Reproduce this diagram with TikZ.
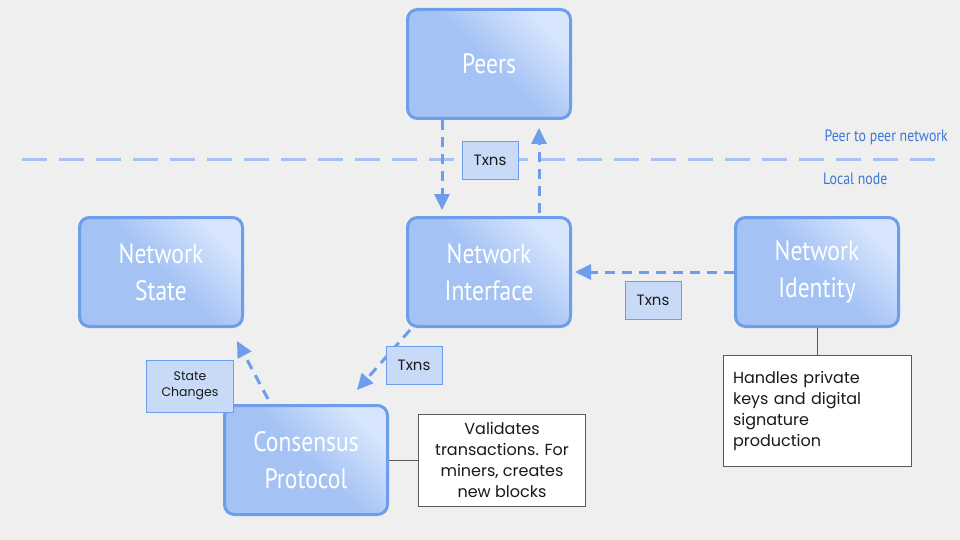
\documentclass[tikz,border=0pt]{standalone}
\usepackage{fontspec}
\usepackage{tikz}
\usetikzlibrary{arrows.meta,calc}
\setmainfont{Poppins}
\newfontfamily\boxfont[FakeStretch=0.84]{PT Sans}
\definecolor{bgray}{HTML}{EFEFEF}
\definecolor{bborder}{HTML}{6D9EEB}
\definecolor{bdark}{HTML}{A4C2F4}
\definecolor{blight}{HTML}{D7E5FD}
\definecolor{blabel}{HTML}{C9DAF8}
\definecolor{btext}{HTML}{3C78D8}
\definecolor{ngray}{HTML}{595959}
\tikzset{
  block/.style={draw=bborder, line width=3pt, rounded corners=10pt,
    top color=blight, bottom color=bdark, middle color=bdark, shading angle=-45,
    minimum width=163pt, minimum height=109pt, align=center,
    text=white, font=\boxfont\fontsize{28}{37}\selectfont},
  tag/.style={draw=bborder, line width=0.8pt, fill=blabel, inner sep=0pt,
    minimum width=56pt, minimum height=38pt, align=center,
    font=\fontsize{15}{18}\selectfont, text=black!90},
  note/.style={draw=ngray, line width=0.8pt, fill=white, align=center,
    font=\fontsize{16}{21}\selectfont, text=black!90},
  flow/.style={draw=bborder, line width=3pt, dash pattern=on 10pt off 7pt,
    -{Triangle[length=16pt,width=15pt]}},
  link/.style={draw=ngray, line width=1pt}
}
\begin{document}
\begin{tikzpicture}[x=1pt,y=-1pt]
\useasboundingbox[fill=bgray] (0,0) rectangle (960,540);
% boundary between the network and the local node
\draw[bdark, line width=3pt, dash pattern=on 25pt off 12pt] (22,160) -- (938,160);
\node[anchor=south east, inner sep=0pt, text=btext, font=\boxfont\fontsize{16.5}{19}\selectfont] (p2p) at (948,145) {Peer to peer network};
\node[anchor=north west, inner sep=0pt, text=btext, font=\boxfont\fontsize{16.5}{19}\selectfont] (local) at (823,173) {Local node};
% blocks
\node[block] (peers) at (489,64) {Peers};
\node[block] (state) at (161,272) {Network\\State};
\node[block] (iface) at (489,272) {Network\\Interface};
\node[block] (ident) at (817,272) {Network\\Identity};
\node[block] (cons) at (306,460) {Consensus\\Protocol};
% flows
\draw[flow] ($(peers.south)+(-47,0)$) -- ($(iface.north)+(-47,-6)$);
\draw[flow] ($(iface.north)+(50,-3)$) -- ($(peers.south)+(50,8)$);
\draw[flow] (ident.west) -- ($(iface.east)+(3,0)$);
\draw[flow] ($(iface.south west)+(4,2)$) -- ($(cons.north east)+(-32,-14)$);
\draw[flow] ($(cons.north)+(-38,-5)$) -- ($(state.south)+(76,13)$);
% flow labels
\node[tag] (txup) at (490,160) {Txns};
\node[tag] (txid) at (653,300) {Txns};
\node[tag] (txcons) at (414,365) {Txns};
\node[tag, minimum width=87pt, minimum height=52pt, font=\fontsize{12.5}{16}\selectfont] (chg) at (190,386) {State\\Changes};
% notes
\node[note, minimum width=167pt, minimum height=92pt] (consnote) at (502,460) {Validates\\transactions. For\\miners, creates\\new blocks};
\node[note, align=left, anchor=north, minimum width=188pt, minimum height=111pt, text width=168pt] (idnote) at (817,355) {Handles private\\keys and digital\\signature\\production};
\draw[link] (cons.east) -- (consnote.west);
\draw[link] (ident.south) -- (idnote.north);
\end{tikzpicture}
\end{document}
